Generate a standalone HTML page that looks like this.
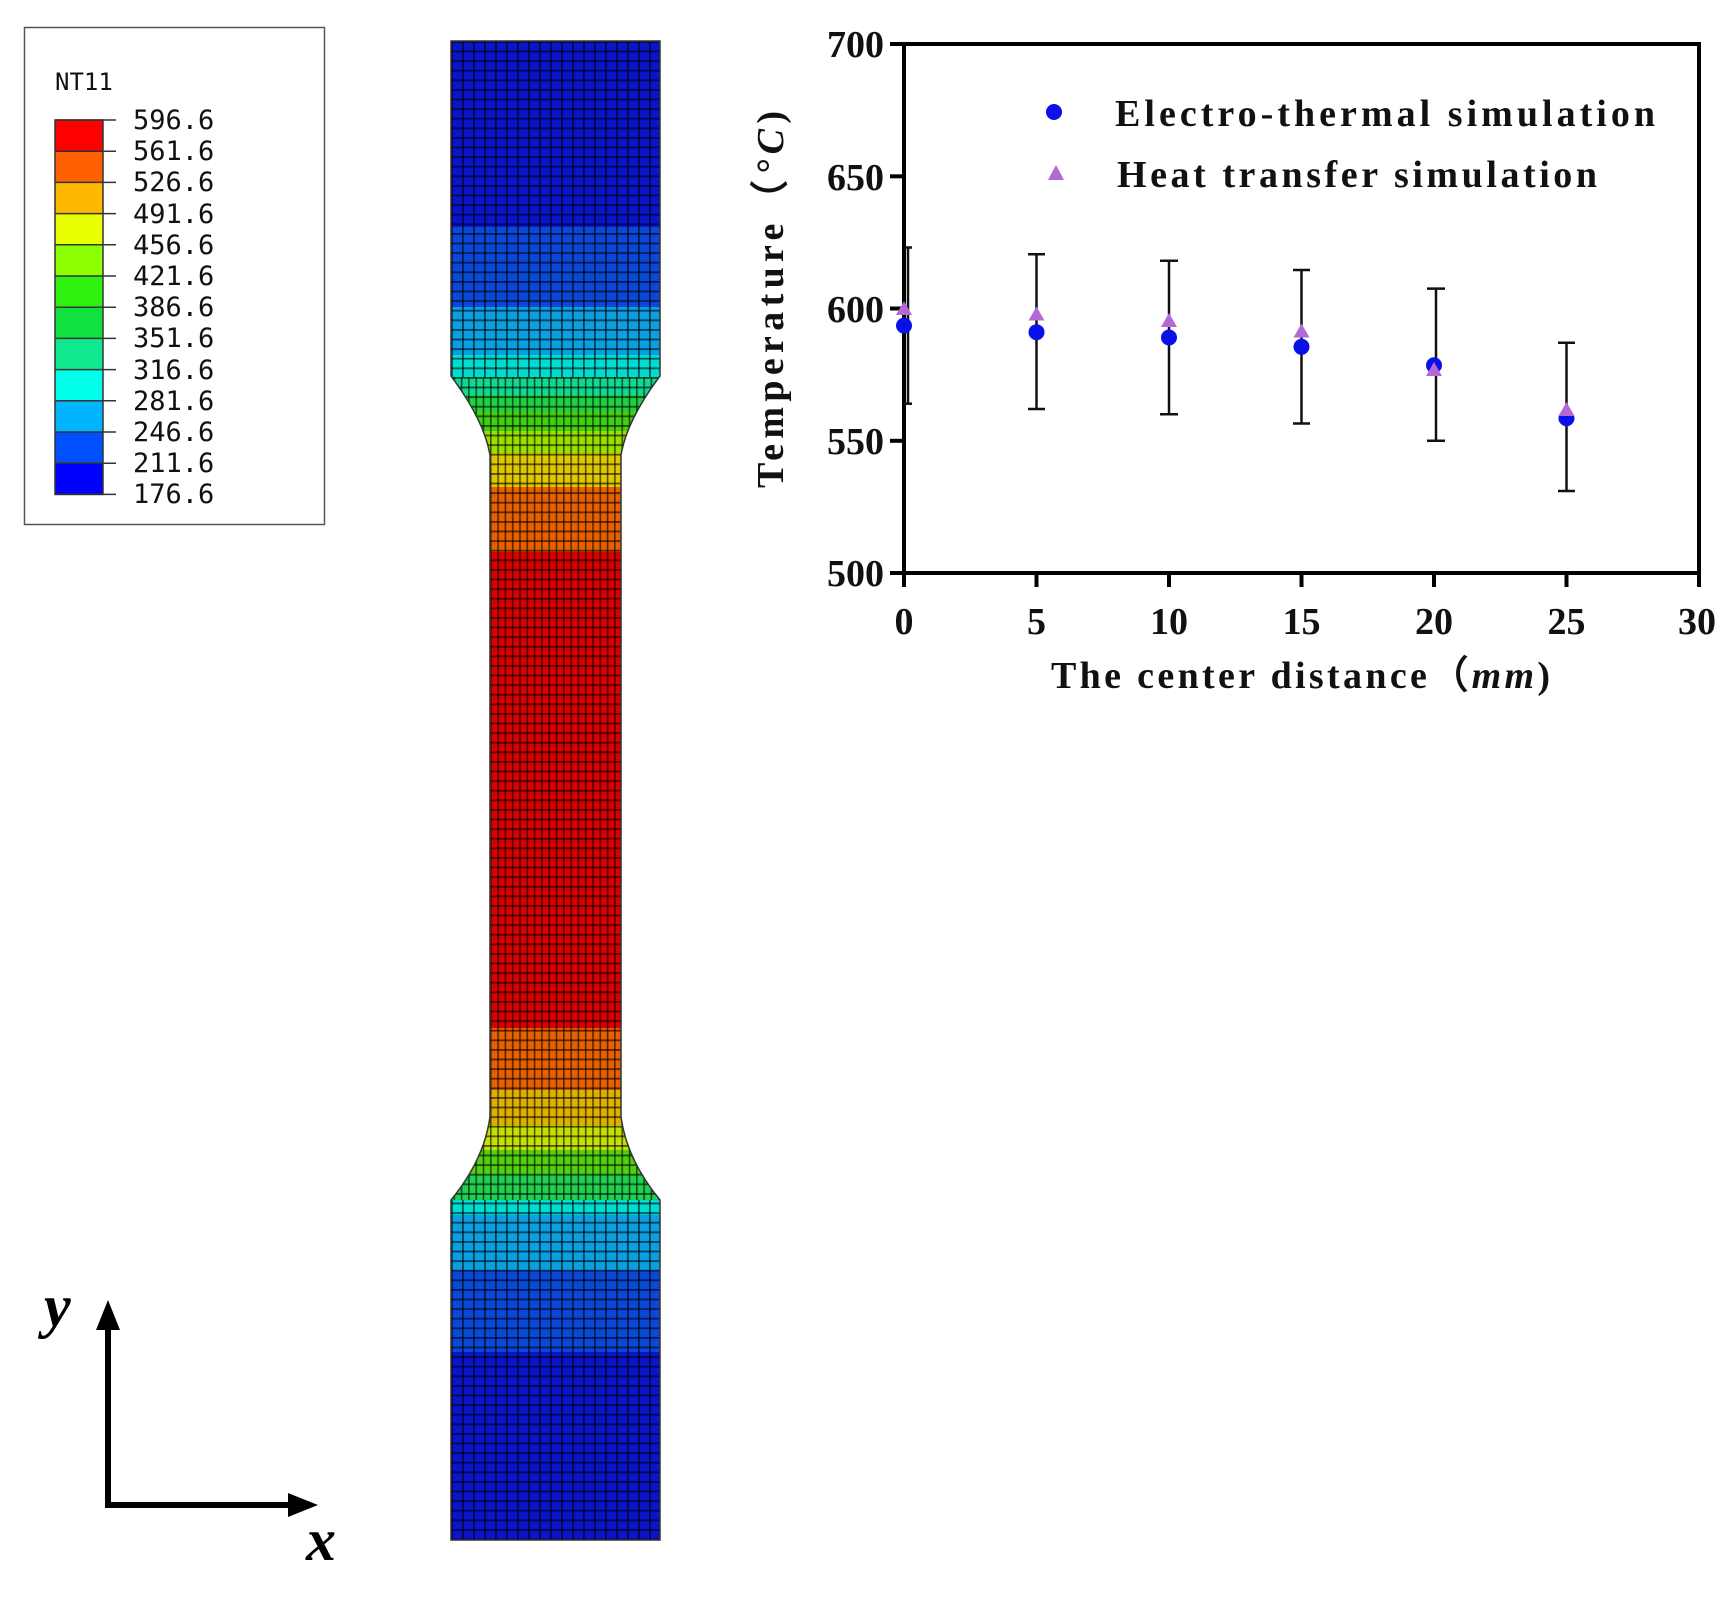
<!DOCTYPE html>
<html><head><meta charset="utf-8"><style>html,body{margin:0;padding:0;background:#fff}svg{display:block}</style></head>
<body>
<svg width="1736" height="1602" viewBox="0 0 1736 1602" xmlns="http://www.w3.org/2000/svg">
<defs>
<clipPath id="spec"><path d="M451,41 L660,41 L660,376 Q627,420 621,455 L621,1117 Q627,1160 660,1200 L660,1540 L451,1540 L451,1200 Q484,1160 490,1117 L490,455 Q484,420 451,376 Z"/></clipPath>
<pattern id="hz" width="10" height="9.6" patternUnits="userSpaceOnUse" x="0" y="41"><rect x="0" y="0" width="10" height="1.8" fill="rgba(0,0,0,0.6)"/></pattern>
<pattern id="vg" width="11" height="10" patternUnits="userSpaceOnUse" x="451" y="0"><rect x="0" y="0" width="1.8" height="10" fill="rgba(0,0,0,0.6)"/></pattern>
<pattern id="vn" width="7.3" height="10" patternUnits="userSpaceOnUse" x="490" y="0"><rect x="0" y="0" width="1.6" height="10" fill="rgba(0,0,0,0.6)"/></pattern>
</defs>
<!-- legend -->
<rect x="24.5" y="27.5" width="300" height="497" fill="#fff" stroke="#555" stroke-width="1.5"/>
<text x="55" y="90" font-family="DejaVu Sans Mono, monospace" font-size="24" fill="#111">NT11</text>
<g>
<rect x="55" y="120" width="48" height="31.2" fill="#ff0000"/>
<rect x="55" y="151.2" width="48" height="31.2" fill="#ff6000"/>
<rect x="55" y="182.4" width="48" height="31.2" fill="#ffb800"/>
<rect x="55" y="213.6" width="48" height="31.2" fill="#e8ff00"/>
<rect x="55" y="244.8" width="48" height="31.2" fill="#8cff00"/>
<rect x="55" y="276" width="48" height="31.2" fill="#30f010"/>
<rect x="55" y="307.2" width="48" height="31.2" fill="#10e040"/>
<rect x="55" y="338.4" width="48" height="31.2" fill="#10e890"/>
<rect x="55" y="369.6" width="48" height="31.2" fill="#00ffe8"/>
<rect x="55" y="400.8" width="48" height="31.2" fill="#00b4ff"/>
<rect x="55" y="432" width="48" height="31.2" fill="#0050ff"/>
<rect x="55" y="463.2" width="48" height="31.2" fill="#0000ff"/>
</g>
<g stroke="#333" stroke-width="1.5">
<line x1="55" y1="120" x2="116" y2="120"/><line x1="55" y1="151.2" x2="116" y2="151.2"/><line x1="55" y1="182.4" x2="116" y2="182.4"/><line x1="55" y1="213.6" x2="116" y2="213.6"/><line x1="55" y1="244.8" x2="116" y2="244.8"/><line x1="55" y1="276" x2="116" y2="276"/><line x1="55" y1="307.2" x2="116" y2="307.2"/><line x1="55" y1="338.4" x2="116" y2="338.4"/><line x1="55" y1="369.6" x2="116" y2="369.6"/><line x1="55" y1="400.8" x2="116" y2="400.8"/><line x1="55" y1="432" x2="116" y2="432"/><line x1="55" y1="463.2" x2="116" y2="463.2"/><line x1="55" y1="494.4" x2="116" y2="494.4"/>
<rect x="55" y="120" width="48" height="374.4" fill="none"/>
</g>
<g font-family="DejaVu Sans Mono, monospace" font-size="27" fill="#111">
<text x="133" y="129">596.6</text><text x="133" y="160">561.6</text><text x="133" y="191">526.6</text><text x="133" y="223">491.6</text><text x="133" y="254">456.6</text><text x="133" y="285">421.6</text><text x="133" y="316">386.6</text><text x="133" y="347">351.6</text><text x="133" y="379">316.6</text><text x="133" y="410">281.6</text><text x="133" y="441">246.6</text><text x="133" y="472">211.6</text><text x="133" y="503">176.6</text>
</g>
<!-- specimen -->
<g clip-path="url(#spec)">
<rect x="440" y="41" width="230" height="186" fill="#0a14c8"/>
<rect x="440" y="227" width="230" height="80" fill="#0a48d8"/>
<rect x="440" y="307" width="230" height="48" fill="#0aa0e0"/>
<rect x="440" y="355" width="230" height="22" fill="#00dcd0"/>
<rect x="440" y="377" width="230" height="18" fill="#10d890"/>
<rect x="440" y="395" width="230" height="16" fill="#20d040"/>
<rect x="440" y="411" width="230" height="20" fill="#40d010"/>
<rect x="440" y="431" width="230" height="22" fill="#98e000"/>
<rect x="440" y="453" width="230" height="34" fill="#e0c800"/>
<rect x="440" y="487" width="230" height="65" fill="#e86000"/>
<rect x="440" y="1028" width="230" height="62" fill="#e86000"/>
<rect x="440" y="552" width="230" height="476" fill="#d80000"/>
<rect x="440" y="1090" width="230" height="35" fill="#e0b000"/>
<rect x="440" y="1125" width="230" height="25" fill="#c8e000"/>
<rect x="440" y="1150" width="230" height="25" fill="#50d010"/>
<rect x="440" y="1175" width="230" height="25" fill="#20d050"/>
<rect x="440" y="1200" width="230" height="15" fill="#00dcd0"/>
<rect x="440" y="1215" width="230" height="55" fill="#0aa0e0"/>
<rect x="440" y="1270" width="230" height="82" fill="#0a48d8"/>
<rect x="440" y="1352" width="230" height="188" fill="#0a14c8"/>
<rect x="440" y="41" width="230" height="1500" fill="url(#hz)"/>
<rect x="451" y="41" width="210" height="336" fill="url(#vg)"/>
<rect x="451" y="1200" width="210" height="340" fill="url(#vg)"/>
<rect x="451" y="377" width="210" height="823" fill="url(#vn)"/>
</g>
<path d="M451,41 L660,41 L660,376 Q627,420 621,455 L621,1117 Q627,1160 660,1200 L660,1540 L451,1540 L451,1200 Q484,1160 490,1117 L490,455 Q484,420 451,376 Z" fill="none" stroke="#333" stroke-width="1.5"/>
<!-- xy axes -->
<g stroke="#000" stroke-width="6" fill="none"><line x1="108" y1="1505" x2="108" y2="1325"/><line x1="105" y1="1505" x2="295" y2="1505"/></g>
<polygon points="108,1300 96,1330 120,1330" fill="#000"/>
<polygon points="318,1505 288,1493 288,1517" fill="#000"/>
<text x="44" y="1326" font-family="Liberation Serif, serif" font-style="italic" font-weight="bold" font-size="60">y</text>
<text x="306" y="1560" font-family="Liberation Serif, serif" font-style="italic" font-weight="bold" font-size="60">x</text>
<!-- chart -->
<g stroke="#000" stroke-width="4" fill="none">
<rect x="904" y="44" width="795" height="529"/>
<line x1="890" y1="44" x2="904" y2="44"/><line x1="890" y1="176.3" x2="904" y2="176.3"/><line x1="890" y1="308.5" x2="904" y2="308.5"/><line x1="890" y1="440.8" x2="904" y2="440.8"/><line x1="890" y1="573" x2="904" y2="573"/>
<line x1="904" y1="573" x2="904" y2="587"/><line x1="1036.5" y1="573" x2="1036.5" y2="587"/><line x1="1169" y1="573" x2="1169" y2="587"/><line x1="1301.5" y1="573" x2="1301.5" y2="587"/><line x1="1434" y1="573" x2="1434" y2="587"/><line x1="1566.5" y1="573" x2="1566.5" y2="587"/><line x1="1699" y1="573" x2="1699" y2="587"/>
</g>
<g font-family="Liberation Serif, serif" font-weight="bold" font-size="38" fill="#111" text-anchor="end">
<text x="884" y="57">700</text><text x="884" y="190">650</text><text x="884" y="322">600</text><text x="884" y="454">550</text><text x="884" y="586">500</text>
</g>
<g font-family="Liberation Serif, serif" font-weight="bold" font-size="38" fill="#111" text-anchor="middle">
<text x="904" y="634">0</text><text x="1036.5" y="634">5</text><text x="1169" y="634">10</text><text x="1301.5" y="634">15</text><text x="1434" y="634">20</text><text x="1566.5" y="634">25</text><text x="1697" y="634">30</text>
</g>
<text x="1051" y="688" font-family="Liberation Serif, serif" font-weight="bold" font-size="38" fill="#111" textLength="499">The center distance（<tspan font-style="italic">mm</tspan>)</text>
<text transform="translate(783,488) rotate(-90)" font-family="Liberation Serif, serif" font-weight="bold" font-size="38" fill="#111" textLength="377">Temperature（<tspan font-style="italic">°C</tspan>)</text>
<!-- legend -->
<circle cx="1054" cy="112" r="8" fill="#0a10e8"/>
<polygon points="1056,165 1048,180 1064,180" fill="#b468d8"/>
<text x="1115" y="126" font-family="Liberation Serif, serif" font-weight="bold" font-size="38" fill="#111" textLength="540">Electro-thermal simulation</text>
<text x="1117" y="187" font-family="Liberation Serif, serif" font-weight="bold" font-size="38" fill="#111" textLength="480">Heat transfer simulation</text>
<!-- error bars -->
<g stroke="#111" stroke-width="2.5" fill="none">
<line x1="908" y1="247.5" x2="908" y2="403.7"/><line x1="904" y1="247.5" x2="912" y2="247.5"/><line x1="904" y1="403.7" x2="912" y2="403.7"/>
<line x1="1036.5" y1="254.2" x2="1036.5" y2="409"/><line x1="1028" y1="254.2" x2="1045" y2="254.2"/><line x1="1028" y1="409" x2="1045" y2="409"/>
<line x1="1169" y1="260.8" x2="1169" y2="414.2"/><line x1="1160" y1="260.8" x2="1178" y2="260.8"/><line x1="1160" y1="414.2" x2="1178" y2="414.2"/>
<line x1="1301.5" y1="270" x2="1301.5" y2="423.5"/><line x1="1293" y1="270" x2="1310" y2="270"/><line x1="1293" y1="423.5" x2="1310" y2="423.5"/>
<line x1="1436" y1="288.6" x2="1436" y2="440.7"/><line x1="1427" y1="288.6" x2="1445" y2="288.6"/><line x1="1427" y1="440.7" x2="1445" y2="440.7"/>
<line x1="1566.5" y1="342.8" x2="1566.5" y2="491"/><line x1="1558" y1="342.8" x2="1575" y2="342.8"/><line x1="1558" y1="491" x2="1575" y2="491"/>
</g>
<g fill="#0a10e8">
<circle cx="904" cy="325.6" r="8"/><circle cx="1036.5" cy="332.2" r="8"/><circle cx="1169" cy="337.5" r="8"/><circle cx="1301.5" cy="346.8" r="8"/><circle cx="1434" cy="365.3" r="8"/><circle cx="1566.5" cy="418.2" r="8"/>
</g>
<g fill="#b468d8">
<polygon points="904,301 896,315 912,315"/><polygon points="1036.5,306.5 1028.5,320.5 1044.5,320.5"/><polygon points="1169,313 1161,327 1177,327"/><polygon points="1301.5,323.5 1293.5,337.5 1309.5,337.5"/><polygon points="1434,362 1426,376 1442,376"/><polygon points="1566.5,402 1558.5,416 1574.5,416"/>
</g>
</svg>
</body></html>
